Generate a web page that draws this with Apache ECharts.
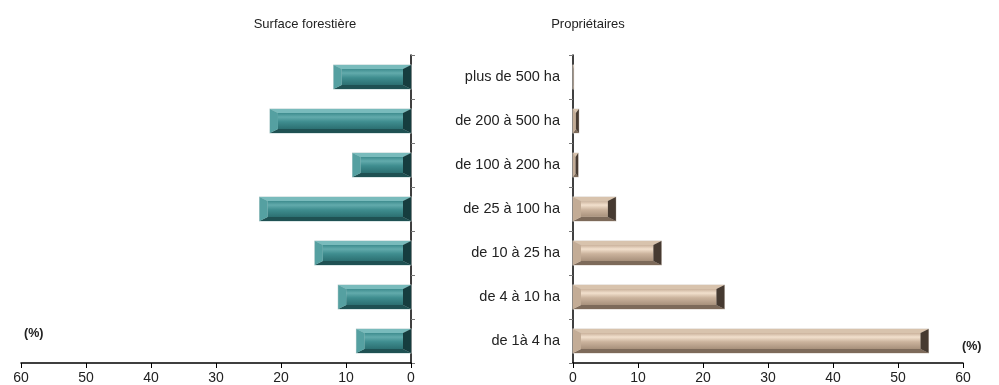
<!DOCTYPE html>
<html>
<head>
<meta charset="utf-8">
<script src="https://cdn.jsdelivr.net/npm/echarts@6/dist/echarts.min.js"></script>
<style>
  html, body { margin: 0; padding: 0; background: #fff; }
  #chart { width: 999px; height: 385px; }
</style>
</head>
<body>
<div id="chart"></div>
<script>
// Size classes, listed bottom to top
const categories = ['de 1à 4 ha', 'de 4 à 10 ha', 'de 10 à 25 ha', 'de 25 à 100 ha', 'de 100 à 200 ha', 'de 200 à 500 ha', 'plus de 500 ha'];
// Share of forest area (%)
const surfaceValues = [8.4, 11.2, 14.8, 23.3, 9.0, 21.7, 11.9];
// Share of owners (%)
const ownerValues = [54.7, 23.3, 13.6, 6.6, 0.8, 0.9, 0.1];
const xTicks = [0, 10, 20, 30, 40, 50, 60];

const FONT = 'Liberation Sans, Arial, sans-serif';

const palettes = {
  teal: { top: '#79bbbc', faceTop: '#62abac', faceMid: '#3f8d8f', faceBot: '#2c7072', bottom: '#1f5153', left: '#55a0a1', right: '#163d3f', edge: '#bcd2d2' },
  tan:  { top: '#d8c3ad', faceTop: '#f2e0cd', faceMid: '#cbb39d', faceBot: '#a8917c', bottom: '#7d6a5a', left: '#c3ac96', right: '#463a31', edge: '#dad2ca' }
};

// Draws one bar as a bevelled block between 0 and its value
function bevelRenderer(pal) {
  return function (params, api) {
    const v = api.value(0);
    const c = api.value(1);
    const p0 = api.coord([0, c]);
    const p1 = api.coord([v, c]);
    const band = api.size([0, 1])[1];
    const h = band * 0.54;
    const xl = Math.min(p0[0], p1[0]);
    const xr = Math.max(p0[0], p1[0]);
    const yt = p0[1] - h / 2;
    const yb = p0[1] + h / 2;
    const w = xr - xl;
    const bx = Math.min(8, w / 2);
    const by = Math.min(4, h / 2);
    const children = [
      { type: 'rect', shape: { x: xl - 0.5, y: yt - 0.5, width: w + 1, height: h + 1 },
        style: { fill: pal.edge } },
      { type: 'rect', shape: { x: xl + bx, y: yt + by, width: Math.max(0, w - 2 * bx), height: h - 2 * by },
        style: { fill: new echarts.graphic.LinearGradient(0, 0, 0, 1, [
          { offset: 0, color: pal.faceMid },
          { offset: 0.25, color: pal.faceTop },
          { offset: 0.55, color: pal.faceMid },
          { offset: 1, color: pal.faceBot }
        ]) } },
      { type: 'polygon', shape: { points: [[xl, yt], [xr, yt], [xr - bx, yt + by], [xl + bx, yt + by]] },
        style: { fill: pal.top } },
      { type: 'polygon', shape: { points: [[xl, yb], [xr, yb], [xr - bx, yb - by], [xl + bx, yb - by]] },
        style: { fill: pal.bottom } },
      { type: 'polygon', shape: { points: [[xl, yt], [xl + bx, yt + by], [xl + bx, yb - by], [xl, yb]] },
        style: { fill: pal.left } },
      { type: 'polygon', shape: { points: [[xr, yt], [xr - bx, yt + by], [xr - bx, yb - by], [xr, yb]] },
        style: { fill: pal.right } }
    ];
    return { type: 'group', children: children };
  };
}

function valueAxis(gridIndex, inverse) {
  return {
    type: 'value', gridIndex: gridIndex, inverse: inverse,
    min: xTicks[0], max: xTicks[xTicks.length - 1], interval: xTicks[1] - xTicks[0],
    axisLine: { show: true, lineStyle: { color: '#000', width: 1.5 } },
    axisTick: { show: true, length: 5, lineStyle: { color: '#000' } },
    axisLabel: { color: '#222', fontSize: 14, fontFamily: FONT, margin: 8 },
    splitLine: { show: false }
  };
}

function categoryAxis(gridIndex, position, showLabels) {
  return {
    type: 'category', gridIndex: gridIndex, position: position, data: categories,
    axisLine: { show: true, lineStyle: { color: '#000', width: 1.5 } },
    axisTick: { show: true, length: 4, lineStyle: { color: '#777' } },
    axisLabel: { show: showLabels, color: '#222', fontSize: 14.5, fontFamily: FONT, margin: 13 }
  };
}

const chart = echarts.init(document.getElementById('chart'), null, { renderer: 'canvas' });
chart.setOption({
  animation: false,
  backgroundColor: '#fff',
  title: [
    { text: 'Surface forestière', left: 300, top: 13, textAlign: 'center',
      textStyle: { fontSize: 13, fontWeight: 'normal', color: '#222', fontFamily: FONT } },
    { text: 'Propriétaires', left: 583, top: 13, textAlign: 'center',
      textStyle: { fontSize: 13, fontWeight: 'normal', color: '#222', fontFamily: FONT } }
  ],
  grid: [
    { left: 21, top: 55, width: 390, height: 308 },
    { left: 573, top: 55, width: 390, height: 308 }
  ],
  xAxis: [valueAxis(0, true), valueAxis(1, false)],
  yAxis: [categoryAxis(0, 'right', false), categoryAxis(1, 'left', true)],
  series: [
    { type: 'custom', xAxisIndex: 0, yAxisIndex: 0, renderItem: bevelRenderer(palettes.teal),
      encode: { x: 0, y: 1 }, data: surfaceValues.map((v, i) => [v, i]) },
    { type: 'custom', xAxisIndex: 1, yAxisIndex: 1, renderItem: bevelRenderer(palettes.tan),
      encode: { x: 0, y: 1 }, data: ownerValues.map((v, i) => [v, i]) }
  ],
  graphic: [
    { type: 'text', left: 24, top: 327, style: { text: '(%)', fontSize: 12.5, fontWeight: 'bold', fill: '#222', fontFamily: FONT } },
    { type: 'text', left: 962, top: 340, style: { text: '(%)', fontSize: 12.5, fontWeight: 'bold', fill: '#222', fontFamily: FONT } }
  ]
});
</script>
</body>
</html>
